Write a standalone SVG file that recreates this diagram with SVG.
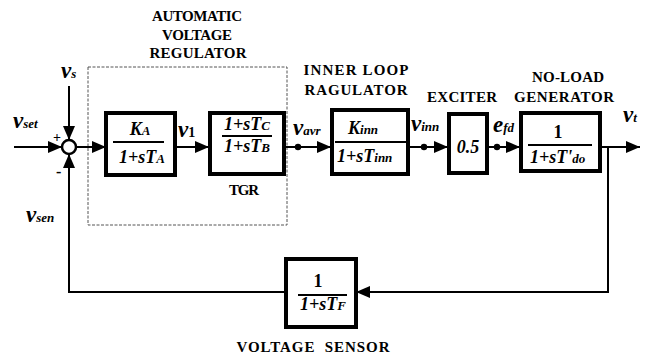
<svg xmlns="http://www.w3.org/2000/svg" width="647" height="354" viewBox="0 0 647 354">
<style>
.blk{fill:#fff;stroke:#000;stroke-width:4}
.ln{fill:none;stroke:#000;stroke-width:2}
.fr{stroke:#000;stroke-width:2}
text{font-family:'Liberation Serif','Times New Roman','DejaVu Serif',serif;font-weight:bold}
.hd{font-size:15px;text-anchor:middle}
.m{font-style:italic;font-size:18px}
.v{font-style:italic;font-size:23px}
.s{font-size:13px}
.c{text-anchor:middle}
</style>
<defs>
<marker id="ar" viewBox="0 0 14 12" refX="14" refY="6" markerWidth="14" markerHeight="12" markerUnits="userSpaceOnUse" orient="auto">
<path d="M0,0 L14,6 L0,12 z" fill="#000"/>
</marker>
</defs>
<g id="avr-frame">
<rect x="88" y="67" width="199" height="158" fill="none" stroke="#555" stroke-width="1" stroke-dasharray="3,1.5"/>
<text class="hd" x="197" y="21" textLength="90" lengthAdjust="spacing">AUTOMATIC</text>
<text class="hd" x="197" y="40" textLength="70" lengthAdjust="spacing">VOLTAGE</text>
<text class="hd" x="198" y="58" textLength="97" lengthAdjust="spacing">REGULATOR</text>
</g>
<g id="connectors">
<line class="ln" x1="14" y1="147" x2="62" y2="147" marker-end="url(#ar)"/>
<line class="ln" x1="69" y1="86" x2="69" y2="140" marker-end="url(#ar)"/>
<line class="ln" x1="76" y1="147" x2="106" y2="147" marker-end="url(#ar)"/>
<line class="ln" x1="175" y1="147" x2="209" y2="147" marker-end="url(#ar)"/>
<line class="ln" x1="284" y1="147" x2="331" y2="147" marker-end="url(#ar)"/>
<line class="ln" x1="408" y1="147" x2="448" y2="147" marker-end="url(#ar)"/>
<line class="ln" x1="487" y1="147" x2="520" y2="147" marker-end="url(#ar)"/>
<line class="ln" x1="600" y1="147" x2="640" y2="147" marker-end="url(#ar)"/>
<path class="ln" d="M608,147 V292 H356" marker-end="url(#ar)"/>
<path class="ln" d="M286,292 H69 V154" marker-end="url(#ar)"/>
<circle cx="298" cy="147" r="3.2"/>
<circle cx="424" cy="147" r="3.2"/>
<circle cx="497" cy="147" r="3.2"/>
</g>
<g id="sum">
<circle cx="69" cy="147" r="7" fill="#fff" stroke="#000" stroke-width="2.5"/>
<text x="53" y="142" font-size="14">+</text>
<text x="56" y="177" font-size="16">-</text>
</g>
<g id="labels">
<text class="v" x="61" y="78">v<tspan class="s">s</tspan></text>
<text class="v" x="13" y="128">v<tspan class="s">set</tspan></text>
<text class="v" x="178" y="137">v<tspan font-size="14" font-style="normal">1</tspan></text>
<text class="v" x="293" y="135">v<tspan class="s">avr</tspan></text>
<text class="v" x="411" y="131">v<tspan class="s">inn</tspan></text>
<text class="v" x="493" y="132" font-size="25">e<tspan class="s">fd</tspan></text>
<text class="v" x="623" y="122">v<tspan class="s">t</tspan></text>
<text class="v" x="26" y="222">v<tspan class="s">sen</tspan></text>
</g>
<g id="ka">
<rect class="blk" x="106" y="113" width="69" height="62"/>
<text class="m c" x="140" y="135">K<tspan class="s">A</tspan></text>
<line class="fr" x1="113" y1="142" x2="164" y2="142"/>
<text class="m c" x="142" y="163">1+sT<tspan class="s">A</tspan></text>
</g>
<g id="tgr">
<rect class="blk" x="210" y="113" width="74" height="61"/>
<text class="m c" x="247" y="130">1+sT<tspan class="s">C</tspan></text>
<line class="fr" x1="222" y1="136" x2="272" y2="136"/>
<text class="m c" x="247" y="152">1+sT<tspan class="s">B</tspan></text>
<text class="hd" x="244" y="195" textLength="30" lengthAdjust="spacing">TGR</text>
</g>
<g id="inner">
<rect class="blk" x="332" y="110" width="76" height="64"/>
<text class="m" x="348" y="134">K<tspan class="s">inn</tspan></text>
<line class="fr" x1="335" y1="142" x2="407" y2="142"/>
<text class="m" x="337" y="162">1+sT<tspan class="s">inn</tspan></text>
<text class="hd" x="356" y="75" textLength="105" lengthAdjust="spacing">INNER LOOP</text>
<text class="hd" x="356" y="95" textLength="103" lengthAdjust="spacing">RAGULATOR</text>
</g>
<g id="exciter">
<rect class="blk" x="449" y="114" width="38" height="59"/>
<text class="m c" x="468" y="153" font-size="20">0.5</text>
<text class="hd" x="462" y="102" textLength="70" lengthAdjust="spacing">EXCITER</text>
</g>
<g id="generator">
<rect class="blk" x="521" y="113" width="79" height="58"/>
<text class="c" x="558" y="138" font-size="18">1</text>
<line class="fr" x1="528" y1="145" x2="592" y2="145"/>
<text class="m" x="530" y="163">1+sT'<tspan class="s">do</tspan></text>
<text class="hd" x="568" y="82" textLength="72" lengthAdjust="spacing">NO-LOAD</text>
<text class="hd" x="564" y="102" textLength="100" lengthAdjust="spacing">GENERATOR</text>
</g>
<g id="sensor">
<rect class="blk" x="286" y="259" width="70" height="68"/>
<text class="c" x="318" y="287" font-size="18">1</text>
<line class="fr" x1="298" y1="295" x2="347" y2="295"/>
<text class="m" x="300" y="310">1+sT<tspan class="s">F</tspan></text>
<text class="hd" x="313" y="352" textLength="153" lengthAdjust="spacing" xml:space="preserve">VOLTAGE  SENSOR</text>
</g>
</svg>
